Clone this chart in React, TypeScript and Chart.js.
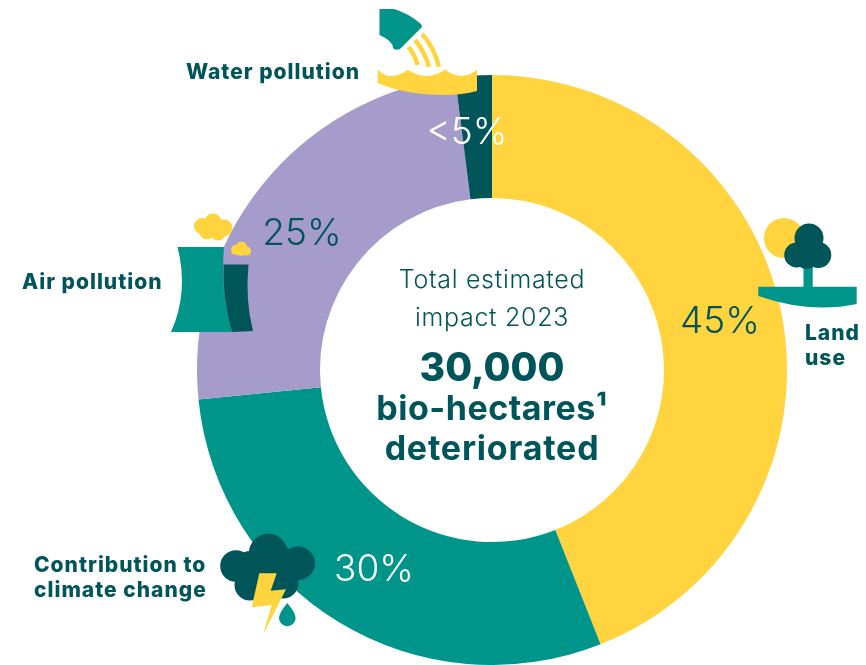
import React, { useEffect, useRef } from "react";
import { Chart, registerables } from "chart.js";

Chart.register(...registerables);

const categories = ["Land use", "Contribution to climate change", "Air pollution", "Water pollution"];
const shares = [44, 29.4, 24.6, 2];
const sliceColors = ["#FFD43F", "#00958B", "#A59CCB", "#005558"];
const percentLabels = ["45%", "30%", "25%", "<5%"];
const percentColors = ["#00555A", "#FFFFFF", "#00555A", "#FFFFFF"];

const YELLOW = "#FFD43F";
const TEAL = "#00958B";
const DARK = "#005558";
const TEXT = "#00555A";
const FAMILY = "Inter, 'Open Sans', sans-serif";

type Ctx = CanvasRenderingContext2D;

function blobs(ctx: Ctx, color: string, list: number[][]) {
  ctx.fillStyle = color;
  for (const [x, y, r] of list) {
    ctx.beginPath();
    ctx.arc(x, y, r, 0, Math.PI * 2);
    ctx.fill();
  }
}

function poly(ctx: Ctx, color: string, pts: number[][]) {
  ctx.fillStyle = color;
  ctx.beginPath();
  pts.forEach(([x, y], i) => (i ? ctx.lineTo(x, y) : ctx.moveTo(x, y)));
  ctx.closePath();
  ctx.fill();
}

function waterIcon(ctx: Ctx) {
  ctx.fillStyle = TEAL;
  ctx.beginPath();
  ctx.moveTo(379.5, 9);
  ctx.lineTo(394, 9);
  ctx.quadraticCurveTo(408, 13, 421, 24);
  ctx.lineTo(422, 27);
  ctx.lineTo(400, 49);
  ctx.quadraticCurveTo(395, 51, 393, 48);
  ctx.quadraticCurveTo(393, 41, 379.5, 35);
  ctx.closePath();
  ctx.fill();

  ctx.strokeStyle = YELLOW;
  ctx.lineWidth = 4.4;
  ctx.beginPath();
  ctx.moveTo(422, 34);
  ctx.quadraticCurveTo(434, 47, 439, 67);
  ctx.moveTo(415, 40);
  ctx.quadraticCurveTo(425, 52, 429, 67);
  ctx.moveTo(408.5, 47);
  ctx.quadraticCurveTo(415, 55, 417.5, 65);
  ctx.stroke();

  ctx.fillStyle = YELLOW;
  ctx.beginPath();
  ctx.moveTo(377.7, 69.5);
  ctx.quadraticCurveTo(385, 77, 391, 76);
  ctx.quadraticCurveTo(399, 76, 408, 70);
  ctx.quadraticCurveTo(418, 76, 427, 76);
  ctx.quadraticCurveTo(436, 76, 445, 69.5);
  ctx.quadraticCurveTo(453, 76, 462, 76);
  ctx.quadraticCurveTo(470, 76, 477, 69.5);
  ctx.lineTo(477, 91);
  ctx.quadraticCurveTo(462, 95, 445, 95);
  ctx.quadraticCurveTo(405, 95, 377.7, 83);
  ctx.closePath();
  ctx.fill();
}

function airIcon(ctx: Ctx) {
  ctx.fillStyle = TEAL;
  ctx.beginPath();
  ctx.moveTo(177.5, 247);
  ctx.lineTo(224, 247);
  ctx.quadraticCurveTo(220, 292, 232, 332);
  ctx.lineTo(171, 332);
  ctx.quadraticCurveTo(189, 292, 177.5, 247);
  ctx.closePath();
  ctx.fill();

  ctx.fillStyle = DARK;
  ctx.beginPath();
  ctx.moveTo(223.5, 264.5);
  ctx.lineTo(248.5, 264.5);
  ctx.quadraticCurveTo(245, 300, 253, 331);
  ctx.lineTo(232, 332);
  ctx.quadraticCurveTo(222, 298, 223.5, 264.5);
  ctx.closePath();
  ctx.fill();

  blobs(ctx, YELLOW, [
    [202, 226, 8],
    [213, 222, 8.5],
    [224, 228, 8.5],
    [218, 233, 7.5],
    [207, 232, 7.5],
    [213, 228, 8],
    [236, 250, 5],
    [241.5, 247, 5.5],
    [246.5, 251, 4.5],
    [241, 251, 5],
  ]);
}

function landIcon(ctx: Ctx) {
  blobs(ctx, YELLOW, [[784, 238, 20]]);
  ctx.fillStyle = TEAL;
  ctx.fillRect(803.5, 264, 9.2, 24);
  ctx.beginPath();
  ctx.moveTo(758.3, 286.7);
  ctx.lineTo(856.7, 286.7);
  ctx.lineTo(856.7, 304);
  ctx.quadraticCurveTo(810, 314, 758.3, 296);
  ctx.closePath();
  ctx.fill();
  blobs(ctx, DARK, [
    [809, 238, 14.5],
    [796.7, 255, 12.5],
    [818.3, 255, 13],
    [806.7, 258, 11],
    [808, 248, 12],
  ]);
}

function stormIcon(ctx: Ctx) {
  blobs(ctx, DARK, [
    [268.3, 553.3, 19.5],
    [236, 566, 15.8],
    [298.3, 563.3, 16.7],
    [250, 585, 15.5],
    [283, 583, 15.5],
    [266, 572, 22],
    [250, 565, 14],
    [285, 562, 14],
  ]);
  poly(ctx, YELLOW, [
    [259.3, 573.3],
    [276.7, 573.3],
    [270.7, 590.7],
    [286, 589.3],
    [263.3, 634],
    [271.7, 605],
    [251.7, 607.3],
  ]);
  ctx.fillStyle = TEAL;
  ctx.beginPath();
  ctx.moveTo(287.3, 603);
  ctx.quadraticCurveTo(279, 613, 279, 618);
  ctx.arc(287.3, 618, 8.3, Math.PI, 0, true);
  ctx.quadraticCurveTo(295.6, 613, 287.3, 603);
  ctx.closePath();
  ctx.fill();
}

const boldLabels: [string, number, number][] = [
  ["Water pollution", 186, 79],
  ["Air pollution", 22, 289],
  ["Land", 805, 340],
  ["use", 805, 365],
  ["Contribution to", 34, 572],
  ["climate change", 34, 597],
];
const percentAnchors = [
  [720, 322],
  [374, 570],
  [302, 234],
  [467, 133],
];
const centerLines: [string, string, string, number][] = [
  ["Total estimated", `300 25px ${FAMILY}`, "0.7px", 288],
  ["impact 2023", `300 25px ${FAMILY}`, "0.7px", 326],
  ["30,000", `800 39px ${FAMILY}`, "0px", 381],
  ["bio-hectares¹", `700 34px ${FAMILY}`, "0.5px", 420],
  ["deteriorated", `700 34px ${FAMILY}`, "0.8px", 460],
];

const annotations = {
  id: "annotations",
  afterDraw(chart: Chart) {
    const ctx = chart.ctx as any;
    ctx.save();
    waterIcon(ctx);
    airIcon(ctx);
    landIcon(ctx);
    stormIcon(ctx);

    ctx.textBaseline = "alphabetic";
    ctx.textAlign = "left";
    ctx.fillStyle = TEXT;
    ctx.font = `800 21px ${FAMILY}`;
    ctx.letterSpacing = "1px";
    for (const [t, x, y] of boldLabels) ctx.fillText(t, x, y);

    ctx.textAlign = "center";
    ctx.textBaseline = "middle";
    ctx.font = `300 37px ${FAMILY}`;
    ctx.letterSpacing = "0px";
    percentLabels.forEach((t, i) => {
      ctx.fillStyle = percentColors[i];
      ctx.fillText(t, percentAnchors[i][0], percentAnchors[i][1]);
    });

    ctx.textBaseline = "alphabetic";
    ctx.fillStyle = TEXT;
    for (const [t, font, spacing, y] of centerLines) {
      ctx.font = font;
      ctx.letterSpacing = spacing;
      ctx.fillText(t, 492, y);
    }
    ctx.restore();
  },
};

export default function App() {
  const ref = useRef<HTMLCanvasElement>(null);
  useEffect(() => {
    const chart = new Chart(ref.current!, {
      type: "doughnut",
      data: {
        labels: categories,
        datasets: [
          {
            data: shares,
            backgroundColor: sliceColors,
            borderWidth: 0,
          },
        ],
      },
      options: {
        animation: false,
        responsive: false,
        devicePixelRatio: 1,
        cutout: 172,
        layout: { padding: { left: 197, right: 79, top: 75, bottom: 0 } },
        plugins: { legend: { display: false }, tooltip: { enabled: false } },
      },
      plugins: [annotations],
    });
    return () => chart.destroy();
  }, []);
  return (
    <canvas
      ref={ref}
      width={866}
      height={665}
      style={{ position: "fixed", left: 0, top: 0, width: 866, height: 665, filter: "blur(0.5px)" }}
    />
  );
}
